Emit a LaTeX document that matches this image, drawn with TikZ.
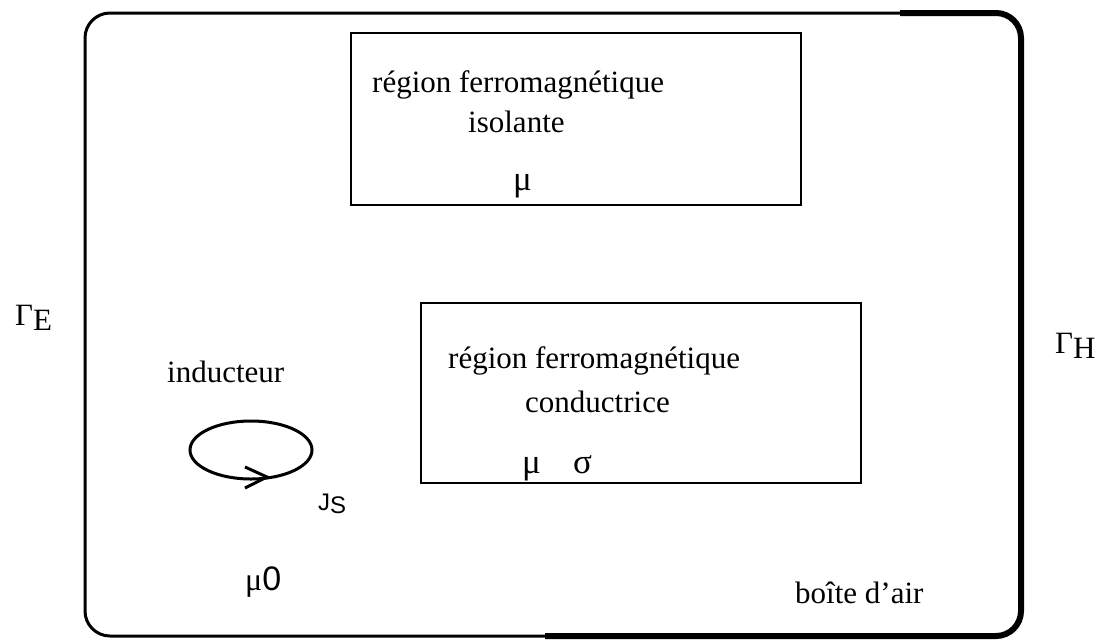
\documentclass[tikz,border=0pt]{standalone}
\usepackage{fontspec}
\setmainfont{Liberation Serif}
\newfontfamily\sansf{Liberation Sans}
\begin{document}
\begin{tikzpicture}[x=1pt,y=-1pt,
  txt/.style={font=\fontsize{31}{36}\selectfont, inner sep=0pt, anchor=base west},
  grk/.style={font=\fontsize{35}{40}\selectfont, inner sep=0pt, anchor=base west},
  regionbox/.style={draw, line width=2pt, inner sep=0pt, anchor=north west},
  outerline/.style={line width=3pt, rounded corners=25pt},
  loopline/.style={line width=3pt}]
\useasboundingbox (0,0) rectangle (1101,641);
% outer air box
\draw[outerline] (85,13) rectangle (1021,636);
\draw[line width=6pt, rounded corners=25pt] (900,13) -- (1021,13) -- (1021,636) -- (545,636);
% regions
\node[regionbox, minimum width=450pt, minimum height=172pt] (iso) at (350,32) {};
\node[regionbox, minimum width=440pt, minimum height=180pt] (cond) at (420,302) {};
% texts of upper region
\node[txt] (t1) at (372,92) {région ferromagnétique};
\node[txt] (t2) at (468,132) {isolante};
\node[grk] (mu1) at (513,190) {μ};
% texts of lower region
\node[txt] (t3) at (448,368) {région ferromagnétique};
\node[txt] (t4) at (525,412) {conductrice};
\node[grk] (mu2) at (522,473) {μ};
\node[grk] (sig) at (573,473) {σ};
% boundaries
\node[txt] (ge) at (15,325) {Γ\raisebox{-5pt}{E}};
\node[txt] (gh) at (1055,353) {Γ\raisebox{-5pt}{H}};
% inductor
\node[txt] (ind) at (167,382) {inducteur};
\coordinate (lc) at (251,450);
\draw[loopline] (lc) ellipse [x radius=61, y radius=29];
\coordinate (a1) at (245,467);
\coordinate (a2) at (267,477);
\coordinate (a3) at (245,488);
\draw[loopline] (a1) -- (a2) -- (a3);
\node[inner sep=0pt, anchor=base west] (js) at (318,510) {\sansf\fontsize{24}{28}\selectfont J\raisebox{-3pt}{S}};
\node[inner sep=0pt, anchor=base west] (mu0) at (245,590) {\fontsize{32}{36}\selectfont μ\sansf\fontsize{34}{36}\selectfont 0};
\node[txt] (air) at (795,603) {boîte d'air};
\end{tikzpicture}
\end{document}
